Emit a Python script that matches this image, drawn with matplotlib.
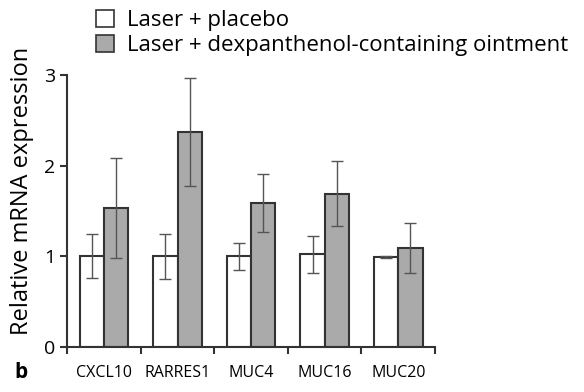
import numpy as np
import matplotlib.pyplot as plt
from matplotlib.patches import Patch

plt.rcParams['font.family'] = ['Open Sans', 'DejaVu Sans']

genes = ["CXCL10", "RARRES1", "MUC4", "MUC16", "MUC20"]
placebo = [1.0, 1.0, 1.0, 1.02, 0.99]
placebo_err = [0.24, 0.25, 0.15, 0.20, 0.01]
dexpan = [1.53, 2.37, 1.59, 1.69, 1.09]
dexpan_err = [0.55, 0.60, 0.32, 0.36, 0.28]

x = np.arange(len(genes))
w = 0.33

fig = plt.figure(figsize=(5.84, 3.92), dpi=100)
ax = fig.add_axes([0.115, 0.115, 0.63, 0.694])

err_kw = dict(ecolor="#555555", elinewidth=1.0, capsize=4, capthick=1.0)
ax.bar(x - w / 2, placebo, w, color="white", edgecolor="#333333", linewidth=1.5,
       yerr=placebo_err, error_kw=err_kw, zorder=2)
ax.bar(x + w / 2, dexpan, w, color="#aaaaaa", edgecolor="#333333", linewidth=1.5,
       yerr=dexpan_err, error_kw=err_kw, zorder=2)

ax.set_xlim(-0.5, len(genes) - 0.5)
ax.set_ylim(0, 3)
ax.set_yticks([0, 1, 2, 3])
ax.set_xticks(np.arange(-0.5, len(genes), 1.0))
ax.set_xticklabels([])
ax.set_xticks(x, minor=True)
ax.set_xticklabels(genes, minor=True, fontsize=11.5)
ax.tick_params(axis="x", which="minor", length=0, pad=13)
ax.tick_params(axis="x", which="major", length=5, width=1.5, color="#333333")
ax.tick_params(axis="y", length=5, width=1.5, color="#333333", labelsize=14)
for s in ["top", "right"]:
    ax.spines[s].set_visible(False)
for s in ["left", "bottom"]:
    ax.spines[s].set_linewidth(1.5)
    ax.spines[s].set_color("#333333")

ax.set_ylabel("Relative mRNA expression", fontsize=17)
ax.yaxis.set_label_coords(-0.09, 0.575)

handles = [Patch(facecolor="white", edgecolor="#333333", linewidth=1.2),
           Patch(facecolor="#aaaaaa", edgecolor="#333333", linewidth=1.2)]
fig.legend(handles, ["Laser + placebo", "Laser + dexpanthenol-containing ointment"],
           loc="upper left", bbox_to_anchor=(0.13, 1.025), frameon=False,
           fontsize=16, handlelength=0.8, handleheight=0.8, handletextpad=0.6,
           labelspacing=0.15)

fig.text(0.025, 0.035, "b", fontsize=15, fontweight="bold")

fig.savefig("out.png", dpi=100)
